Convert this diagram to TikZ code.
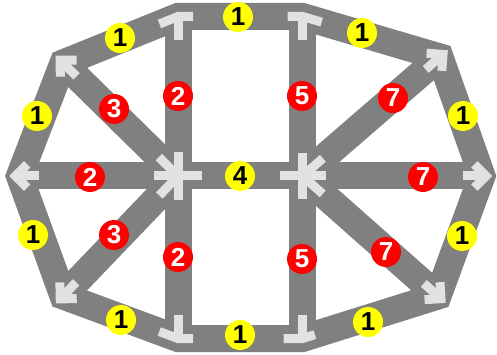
\documentclass[tikz,border=0pt]{standalone}
\usepackage{fontspec}
\setmainfont{Liberation Sans}
\usetikzlibrary{calc}
\definecolor{roadgray}{RGB}{128,128,128}
\definecolor{marklight}{RGB}{226,226,226}
\definecolor{ylw}{RGB}{255,255,0}
\definecolor{rd}{RGB}{255,0,0}
\newcommand{\mkflowarrow}[2]{%
  \coordinate (tp) at ($(#1)!-4pt!(#2)$);
  \draw[flowmark] (tp) -- ($(#1)!19pt!(#2)$);
  \draw[flowmark] ($(tp)!16.5pt!45:(#2)$) -- (tp) -- ($(tp)!16.5pt!-45:(#2)$);
}
\newcommand{\mktee}[6]{% node, diag nb, diag len, flat nb, flat len, stem nb
  \draw[flowmark] ($(#1)!#3pt!(#2)$) -- (#1) -- ($(#1)!#5pt!(#4)$);
  \draw[flowmark] (#1) -- ($(#1)!24pt!(#6)$);
}
\begin{document}
\begin{tikzpicture}[x=1pt,y=-1pt,
  road/.style={draw=roadgray,line width=27pt,line join=miter},
  flowmark/.style={draw=marklight,line width=9pt,line join=miter},
  ycirc/.style={circle,fill=ylw,minimum size=30pt,inner sep=0pt,
    font=\fontsize{26}{26}\selectfont\bfseries,text=black},
  rcirc/.style={circle,fill=rd,minimum size=30pt,inner sep=0pt,
    font=\fontsize{26}{26}\selectfont\bfseries,text=white}]
\useasboundingbox (0,0) rectangle (497,355);
% junctions
\coordinate (A) at (63,63);
\coordinate (B) at (178,16.5);
\coordinate (C) at (302.5,16.5);
\coordinate (D) at (440,57);
\coordinate (E) at (19.5,176);
\coordinate (F) at (178,176);
\coordinate (G) at (302.5,176);
\coordinate (H) at (482,176);
\coordinate (I) at (63,296);
\coordinate (J) at (178,338.5);
\coordinate (K) at (302.5,338.5);
\coordinate (L) at (438,296);
% roads
\draw[road] (A) -- (B) -- (C) -- (D) -- (H) -- (L) -- (K) -- (J) -- (I) -- (E) -- cycle;
\foreach \t in {A,B,E,G,I,J} \draw[road] (F) -- (\t);
\foreach \t in {C,D,H,K,L} \draw[road] (G) -- (\t);
% flow marks
\mkflowarrow{A}{F}
\mkflowarrow{E}{F}
\mkflowarrow{I}{F}
\mkflowarrow{D}{G}
\mkflowarrow{H}{G}
\mkflowarrow{L}{G}
\foreach \t in {B,J,E,G} \draw[flowmark] (F) -- ($(F)!24pt!(\t)$);
\foreach \t in {A,I} \draw[flowmark] (F) -- ($(F)!27pt!(\t)$);
\foreach \t in {C,K,H,F} \draw[flowmark] (G) -- ($(G)!23pt!(\t)$);
\foreach \t in {D,L} \draw[flowmark] (G) -- ($(G)!27pt!(\t)$);
\mktee{B}{A}{20}{C}{15}{F}
\mktee{C}{D}{20}{B}{15}{G}
\mktee{J}{I}{20}{K}{15}{F}
\mktee{K}{L}{13}{J}{19}{G}
% labels
\node[ycirc] (y1) at (120,38) {1};
\node[ycirc] (y2) at (238,17) {1};
\node[ycirc] (y3) at (362,33) {1};
\node[ycirc] (y4) at (37,116) {1};
\node[ycirc] (y5) at (463,116) {1};
\node[ycirc] (y6) at (33,235) {1};
\node[ycirc] (y7) at (462,236) {1};
\node[ycirc] (y8) at (121,320) {1};
\node[ycirc] (y9) at (240,335) {1};
\node[ycirc] (y10) at (368,322) {1};
\node[ycirc] (y11) at (240,176) {4};
\node[rcirc] (r1) at (114,109) {3};
\node[rcirc] (r2) at (178,96) {2};
\node[rcirc] (r3) at (302,96) {5};
\node[rcirc] (r4) at (393,98) {7};
\node[rcirc] (r5) at (90,177) {2};
\node[rcirc] (r6) at (423,177) {7};
\node[rcirc] (r7) at (114,235) {3};
\node[rcirc] (r8) at (178,257) {2};
\node[rcirc] (r9) at (302,259) {5};
\node[rcirc] (r10) at (386,252) {7};
\end{tikzpicture}
\end{document}
